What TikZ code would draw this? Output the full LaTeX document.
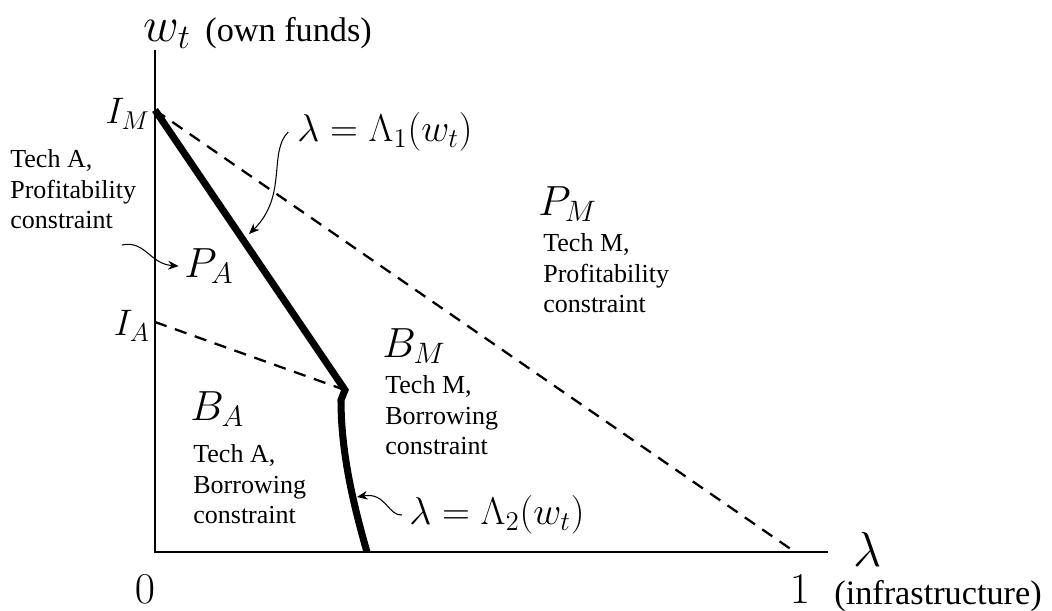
\documentclass[tikz,border=0pt]{standalone}
\usepackage{fix-cm}
\usepackage[no-math]{fontspec}
\setmainfont{Liberation Serif}
\usetikzlibrary{arrows.meta, positioning}

\begin{document}
\begin{tikzpicture}[
    x=0.02cm, y=-0.02cm,
    >={Stealth[length=6pt, width=5pt]},
    axislbl/.style={font=\fontsize{28}{32}\selectfont, inner sep=0pt},
    ticklbl/.style={font=\fontsize{25}{28}\selectfont, inner sep=0pt},
    unitlbl/.style={font=\fontsize{19.5}{22}\selectfont, inner sep=0pt},
    pointlbl/.style={font=\fontsize{21}{24}\selectfont, inner sep=0pt},
    curvelbl/.style={font=\fontsize{22}{25}\selectfont, inner sep=0pt},
    regionlbl/.style={font=\fontsize{24}{28}\selectfont, inner sep=0pt},
    note/.style={font=\fontsize{14.8}{17.5}\selectfont, align=left, inner sep=0pt},
    bound/.style={line width=4pt, line join=miter},
    border/.style={line width=1.3pt, dash pattern=on 7pt off 5pt}
  ]
  \useasboundingbox (0,0) rectangle (1052,610);

  % axes and corner points
  \coordinate (O) at (155,552);
  \coordinate (ytop) at (155,50);
  \coordinate (xend) at (828,552);
  \coordinate (IM) at (155,110);
  \coordinate (IA) at (155,322);
  \coordinate (kink) at (345,390);
  \coordinate (one) at (795,552);
  \coordinate (foot) at (367,552);

  \draw[line width=0.9pt] (ytop) -- (O) -- (xend);
  \draw[border] (IM) -- (one);
  \draw[border] (IA) -- (kink);
  \draw[bound] (IM) -- (kink) -- ++(-4,10) .. controls (341,450) and (352,500) .. (foot);

  % axis labels
  \node[axislbl, anchor=base west] (wt) at (143,41) {$w_t$};
  \node[unitlbl, anchor=base west] (own) at (205,41) {(own funds)};
  \node[axislbl, anchor=base west] (lam) at (853,566) {$\lambda$};
  \node[ticklbl, anchor=base] (zero) at (145,603) {$0$};
  \node[ticklbl, anchor=base] (unit) at (800,603) {$1$};
  \node[unitlbl, anchor=base west] (infra) at (834,604) {(infrastructure)};

  \node[pointlbl, anchor=east] (im) at (150,114) {$I_M$};
  \node[pointlbl, anchor=east] (ia) at (150,326) {$I_A$};

  % regions
  \node[regionlbl, anchor=west] (pa) at (184,266) {$P_A$};
  \node[regionlbl, anchor=base west] (pm) at (538,215) {$P_M$};
  \node[regionlbl, anchor=base west] (bm) at (382,357) {$B_M$};
  \node[regionlbl, anchor=base west] (ba) at (190,420) {$B_A$};

  \node[note, anchor=north west] (pa-note) at (10,149) {Tech A,\\Profitability\\constraint};
  \node[note, anchor=north west] (pm-note) at (543,233) {Tech M,\\Profitability\\constraint};
  \node[note, anchor=north west] (bm-note) at (385,375) {Tech M,\\Borrowing\\constraint};
  \node[note, anchor=north west] (ba-note) at (193,444) {Tech A,\\Borrowing\\constraint};

  % curve labels
  \node[curvelbl, anchor=west] (lam1) at (297,132) {$\lambda = \Lambda_1(w_t)$};
  \node[curvelbl, anchor=west] (lam2) at (409,515) {$\lambda = \Lambda_2(w_t)$};

  \coordinate (on1) at (249,234);
  \coordinate (on2) at (357,497);
  \coordinate (pa-from) at (122,245);

  \draw[->, line width=0.6pt] ([xshift=-5pt]lam1.west) .. controls (268,152) and (288,196) .. (on1);
  \draw[->, line width=0.6pt] ([xshift=-4pt]lam2.west) .. controls (388,516) and (386,492) .. (on2);
  \draw[->, line width=0.6pt] (pa-from) .. controls (145,240) and (150,264) .. ([xshift=-3pt]pa.west);
\end{tikzpicture}
\end{document}
